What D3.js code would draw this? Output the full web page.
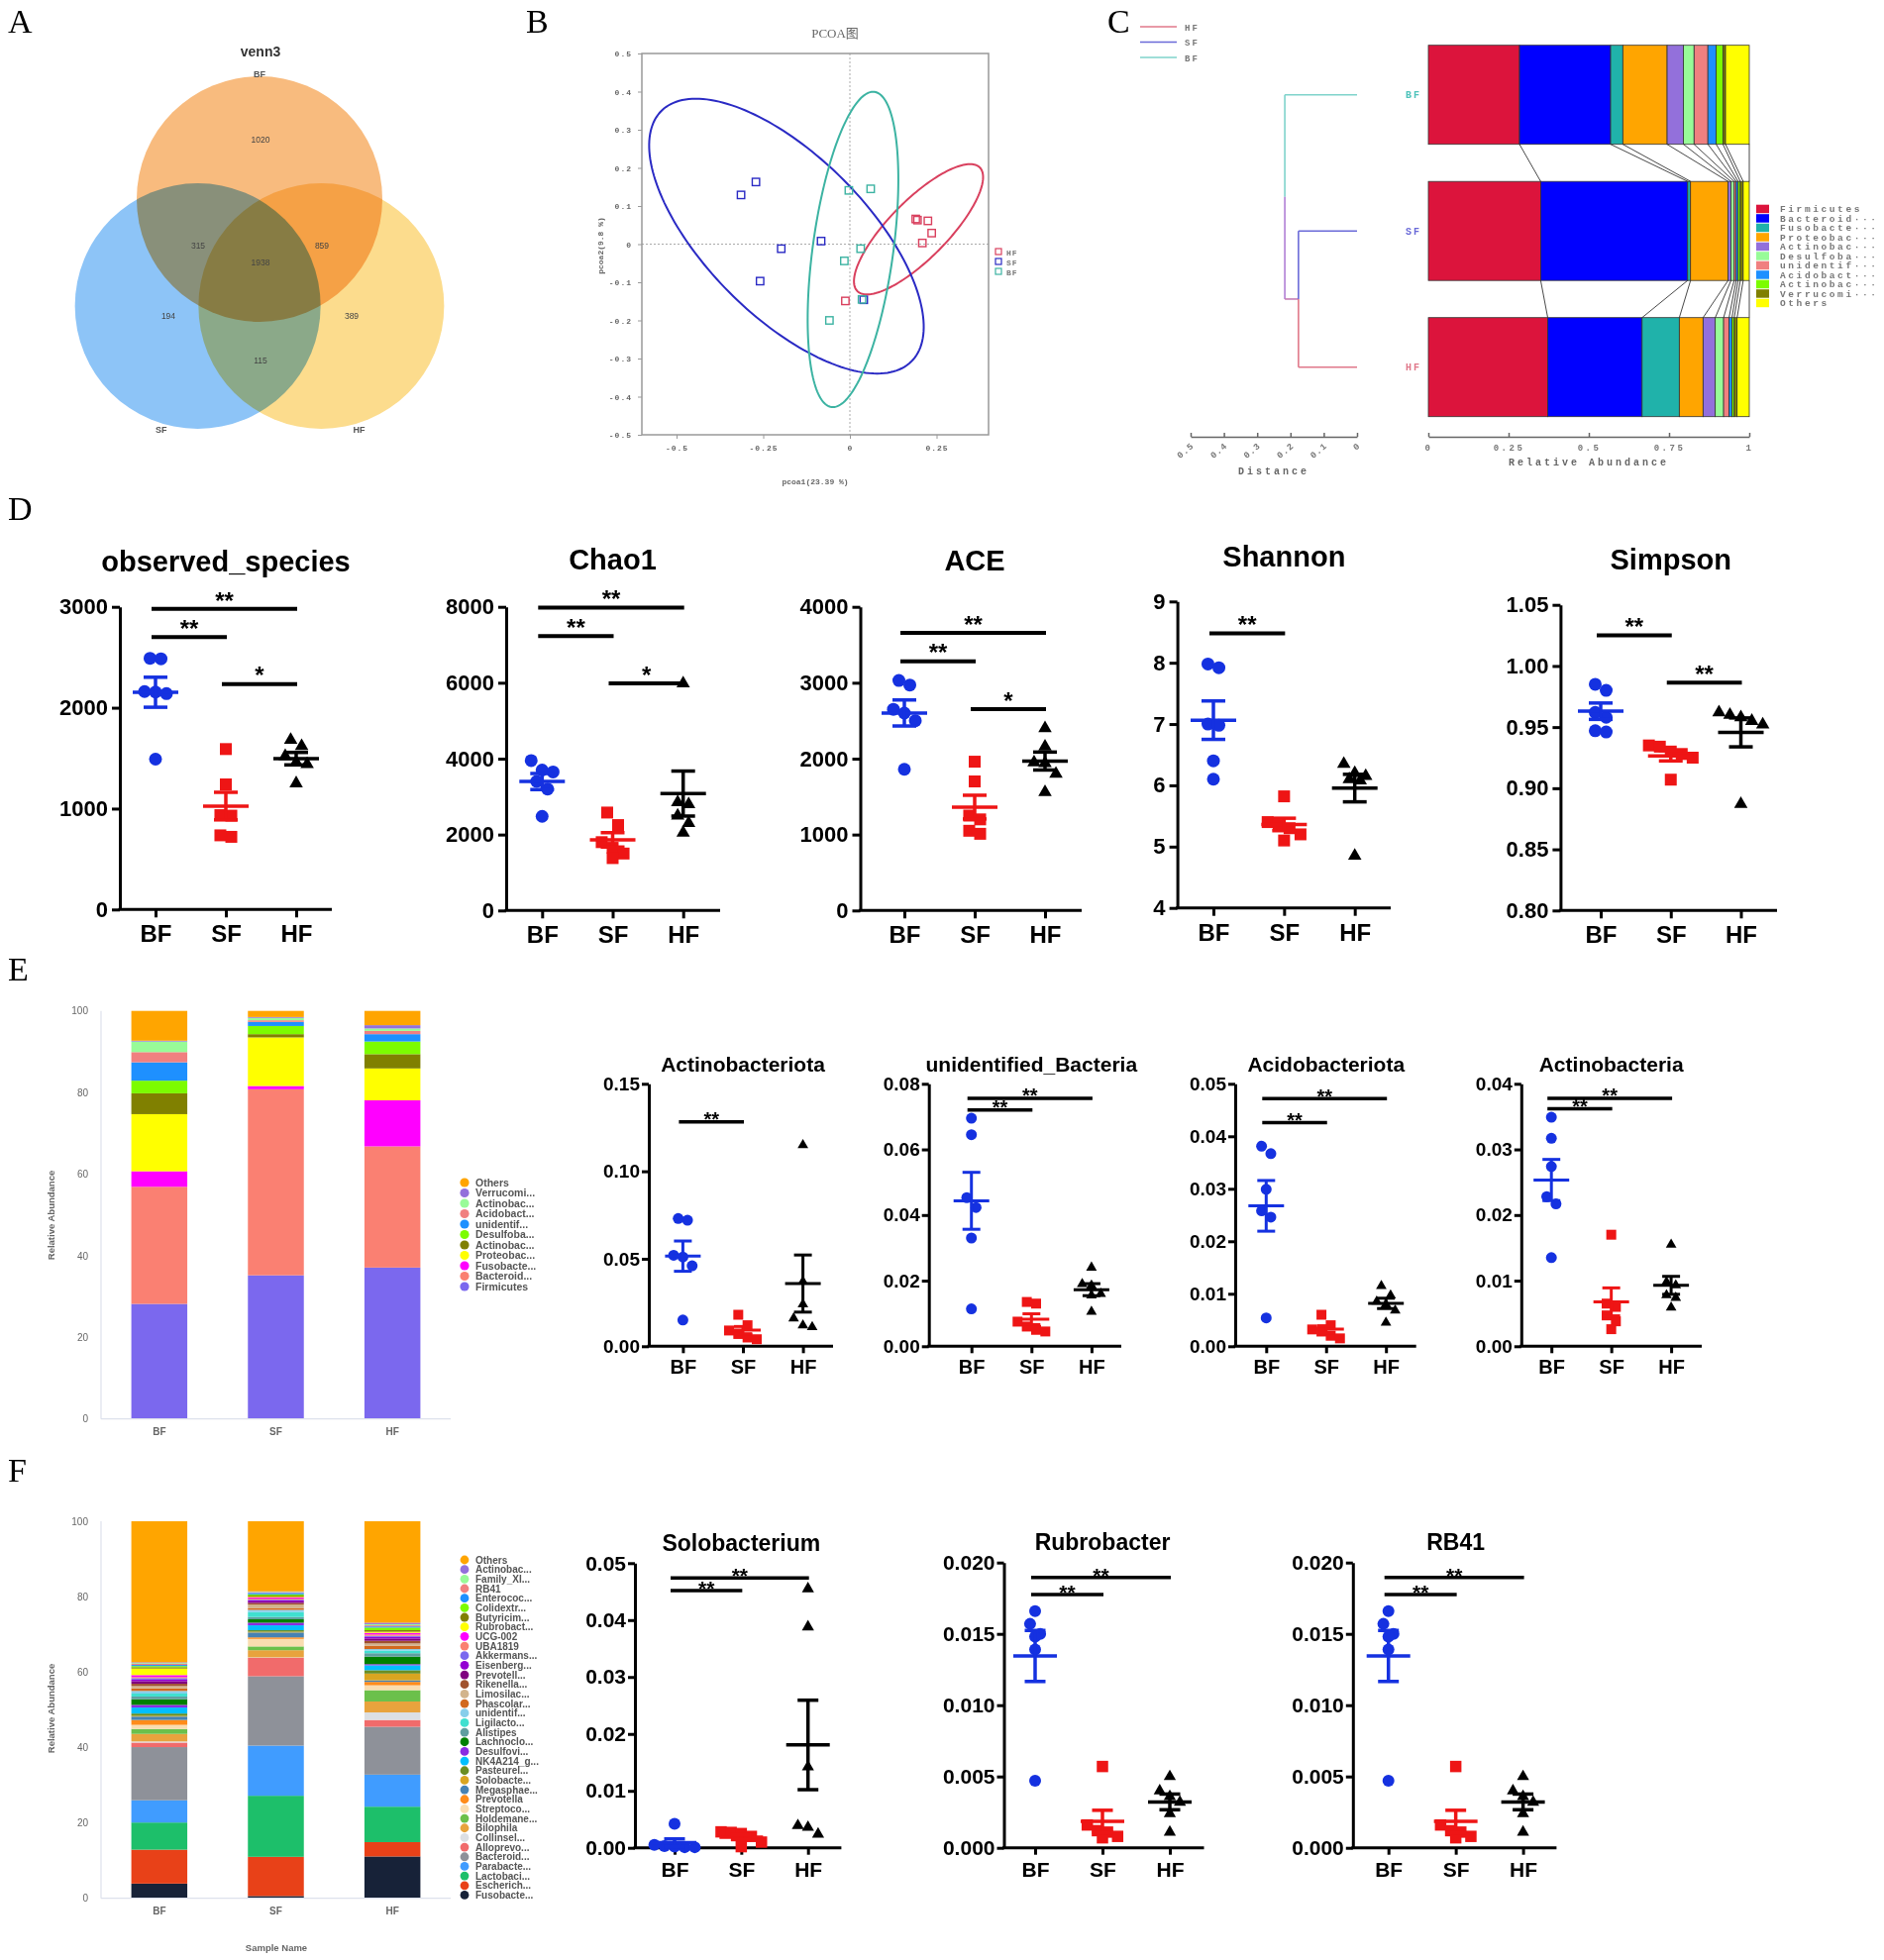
<!DOCTYPE html>
<html>
<head>
<meta charset="utf-8">
<script src="https://cdn.jsdelivr.net/npm/d3@7"></script>
<style>
  body { margin: 0; background: #fff; }
  svg { display: block; }
</style>
</head>
<body>
<div id="fig"></div>
<script>
// ---------------- data ----------------
var groups = ["BF", "SF", "HF"];

// A: venn
var vennSets = ["BF", "SF", "HF"];
var vennRegions = ["BF", "BF&SF", "BF&SF&HF", "BF&HF", "SF", "HF", "SF&HF"];
var vennCounts = [1020, 315, 1938, 859, 194, 389, 115];

// B: PCoA (pcoa1, pcoa2)
var pcoaGroups = ["HF", "SF", "BF"];
var pcoaHF = [[0.190, 0.066], [0.195, 0.063], [0.225, 0.061], [0.236, 0.029], [0.209, 0.003], [-0.013, -0.149]];
var pcoaSF = [[-0.314, 0.129], [-0.271, 0.163], [-0.198, -0.012], [-0.083, 0.008], [-0.259, -0.097], [0.040, -0.146]];
var pcoaBF = [[-0.003, 0.141], [0.060, 0.145], [0.031, -0.012], [-0.016, -0.044], [-0.059, -0.200], [0.035, -0.145]];
// confidence ellipses: centre, major and minor semi-axis vectors (data units)
var ellipseHF = { c: [0.198, 0.039], u: [0.1748, 0.1636], v: [0.0642, -0.0494] };
var ellipseSF = { c: [-0.183, 0.021], u: [0.354, -0.334], v: [-0.1775, -0.1356] };
var ellipseBF = { c: [0.009, -0.014], u: [0.0615, 0.4133], v: [0.1154, -0.0124] };
var pcoaXTicks = [-0.5, -0.25, 0, 0.25];
var pcoaYTicks = [0.5, 0.4, 0.3, 0.2, 0.1, 0, -0.1, -0.2, -0.3, -0.4, -0.5];

// C: UPGMA tree + phylum bars
var phylaC = ["Firmicutes", "Bacteroid\u00b7\u00b7\u00b7", "Fusobacte\u00b7\u00b7\u00b7", "Proteobac\u00b7\u00b7\u00b7", "Actinobac\u00b7\u00b7\u00b7",
  "Desulfoba\u00b7\u00b7\u00b7", "unidentif\u00b7\u00b7\u00b7", "Acidobact\u00b7\u00b7\u00b7", "Actinobac\u00b7\u00b7\u00b7", "Verrucomi\u00b7\u00b7\u00b7", "Others"];
var phylaCColors = ["#dc143c", "#0000ff", "#20b2aa", "#ffa500", "#9370db", "#98fb98", "#f08080", "#1e90ff", "#7cfc00", "#808000", "#ffff00"];
var phylaC_BF = [0.284, 0.284, 0.038, 0.138, 0.051, 0.033, 0.043, 0.026, 0.021, 0.008, 0.074];
var phylaC_SF = [0.350, 0.458, 0.009, 0.117, 0.009, 0.010, 0.006, 0.006, 0.007, 0.009, 0.019];
var phylaC_HF = [0.372, 0.294, 0.116, 0.074, 0.038, 0.026, 0.017, 0.009, 0.007, 0.009, 0.038];
var treeHeights = [0.176, 0.217]; // SF+HF join, then root
var distTicks = [0.5, 0.4, 0.3, 0.2, 0.1, 0];
var relTicks = [0, 0.25, 0.5, 0.75, 1];

// D: alpha diversity (BF, SF, HF)
var observedSpecies = [[2490, 2485, 2160, 2155, 2140, 1490], [1590, 1240, 935, 930, 735, 720], [1680, 1620, 1520, 1460, 1440, 1250]];
var observedSig = [["BF", "HF", 2980, "**"], ["BF", "SF", 2700, "**"], ["SF", "HF", 2235, "*"]];
var chao1 = [[3950, 3700, 3650, 3400, 3200, 2480], [2580, 2250, 1800, 1650, 1500, 1380], [5980, 2850, 2800, 2500, 2300, 2050]];
var chao1Sig = [["BF", "HF", 7980, "**"], ["BF", "SF", 7228, "**"], ["SF", "HF", 5983, "*"]];
var ace = [[3030, 2970, 2650, 2600, 2500, 1860], [1960, 1700, 1250, 1200, 1050, 1010], [2400, 2160, 1950, 1940, 1800, 1560]];
var aceSig = [["BF", "HF", 3657, "**"], ["BF", "SF", 3283, "**"], ["SF", "HF", 2652, "*"]];
var shannon = [[7.98, 7.92, 7.00, 6.98, 6.40, 6.10], [5.82, 5.40, 5.35, 5.30, 5.20, 5.10], [6.35, 6.20, 6.15, 6.10, 6.08, 4.85]];
var shannonSig = [["BF", "SF", 8.48, "**"]];
var simpson = [[0.985, 0.980, 0.962, 0.958, 0.947, 0.946], [0.935, 0.934, 0.930, 0.928, 0.925, 0.907], [0.962, 0.960, 0.958, 0.955, 0.952, 0.887]];
var simpsonSig = [["BF", "SF", 1.025, "**"], ["SF", "HF", 0.9863, "**"]];

// E: phylum level
var phylaE = ["Firmicutes", "Bacteroid...", "Fusobacte...", "Proteobac...", "Actinobac...", "Desulfoba...",
  "unidentif...", "Acidobact...", "Actinobac...", "Verrucomi...", "Others"];
var phylaEColors = ["#7b68ee", "#fa8072", "#ff00ff", "#ffff00", "#808000", "#7cfc00", "#1e90ff", "#f08080", "#98fb98", "#9370db", "#ffa500"];
var phylaE_BF = [28.2, 28.7, 3.8, 14.0, 5.1, 3.1, 4.5, 2.5, 2.6, 0.2, 7.3];
var phylaE_SF = [35.2, 45.6, 0.8, 11.9, 0.8, 2.0, 1.0, 0.4, 0.6, 0.2, 1.5];
var phylaE_HF = [37.1, 29.7, 11.3, 7.8, 3.5, 3.1, 1.8, 0.8, 0.6, 0.8, 3.5];
var actinobacteriota = [[0.073, 0.072, 0.052, 0.051, 0.046, 0.015], [0.018, 0.012, 0.009, 0.007, 0.005, 0.004], [0.115, 0.037, 0.024, 0.016, 0.012, 0.011]];
var actinobacteriotaSig = [["BF", "SF", 0.1283, "**"]];
var unidentifiedBacteria = [[0.0695, 0.0645, 0.0453, 0.0423, 0.0330, 0.0114], [0.0135, 0.0130, 0.0075, 0.0060, 0.0050, 0.0045], [0.0240, 0.0190, 0.0185, 0.0160, 0.0155, 0.0105]];
var unidentifiedSig = [["BF", "HF", 0.0756, "**"], ["BF", "SF", 0.0720, "**"]];
var acidobacteriota = [[0.0381, 0.0367, 0.0299, 0.0258, 0.0246, 0.0054], [0.0060, 0.0040, 0.0032, 0.0028, 0.0020, 0.0015], [0.0115, 0.0097, 0.0085, 0.0080, 0.0068, 0.0045]];
var acidobacteriotaSig = [["BF", "HF", 0.0472, "**"], ["BF", "SF", 0.0426, "**"]];
var actinobacteria = [[0.0349, 0.0317, 0.0274, 0.0228, 0.0217, 0.0135], [0.0170, 0.0065, 0.0060, 0.0047, 0.0038, 0.0026], [0.0155, 0.0098, 0.0093, 0.0078, 0.0074, 0.0059]];
var actinobacteriaSig = [["BF", "HF", 0.0378, "**"], ["BF", "SF", 0.0362, "**"]];

// F: genus level
var generaF = ["Fusobacte...", "Escherich...", "Lactobaci...", "Parabacte...", "Bacteroid...", "Alloprevo...", "Collinsel...",
  "Bilophila", "Holdemane...", "Streptoco...", "Prevotella", "Megasphae...", "Solobacte...", "Pasteurel...", "NK4A214_g...",
  "Desulfovi...", "Lachnoclo...", "Alistipes", "Ligilacto...", "unidentif...", "Phascolar...", "Limosilac...", "Rikenella...",
  "Prevotell...", "Eisenberg...", "Akkermans...", "UBA1819", "UCG-002", "Rubrobact...", "Butyricim...", "Colidextr...",
  "Enterococ...", "RB41", "Family_XI...", "Actinobac...", "Others"];
var generaFColors = ["#172238", "#e84118", "#1dbf6a", "#409cff", "#8e9199", "#f16b6b", "#dcdfe3",
  "#e8a33d", "#6bc04b", "#f9ddb1", "#ff8c1a", "#4682b4", "#daa520", "#6b8e23", "#00bfff",
  "#8a2be2", "#008000", "#5f9ea0", "#40e0d0", "#87ceeb", "#d2691e", "#d2b48c", "#a0522d",
  "#800080", "#9400d3", "#7b68ee", "#fa8072", "#ff00ff", "#ffff00", "#808000", "#7cfc00",
  "#1e90ff", "#f08080", "#98fb98", "#9370db", "#ffa500"];
var generaF_BF = [3.9, 9.0, 7.2, 5.9, 14.1, 1.2, 0.3, 2.0, 1.3, 1.1, 1.3, 0.9, 0.2, 0.6, 1.6, 0.7, 1.5, 0.7, 0.8, 0.7, 0.7, 0.6, 0.6, 0.7, 0.4, 0.4, 0.3, 0.5, 1.75, 0.35, 0.3, 0.3, 0.3, 0.2, 0.2, 37.4];
var generaF_SF = [0.6, 10.4, 16.2, 13.3, 18.4, 4.9, 0.1, 1.9, 1.0, 2.0, 0.4, 1.3, 0.2, 0.4, 1.3, 0.7, 0.9, 0.6, 1.3, 0.6, 0.4, 1.0, 0.4, 0.4, 0.3, 0.2, 0.3, 0.3, 0.2, 0.3, 0.3, 0.4, 0.2, 0.1, 0.1, 18.6];
var generaF_HF = [11.1, 3.8, 9.4, 8.5, 12.7, 1.8, 2.0, 2.9, 3.0, 1.3, 0.9, 0.4, 1.8, 0.9, 1.3, 0.3, 2.0, 0.9, 0.7, 0.4, 0.9, 0.6, 0.7, 0.6, 0.4, 0.3, 0.4, 0.4, 0.3, 0.4, 0.7, 0.3, 0.3, 0.3, 0.4, 26.9];
var solobacterium = [[0.0042, 0.0005, 0.0003, 0.0002, 0.0001, 0.0001], [0.0028, 0.0027, 0.0025, 0.0020, 0.0010, 0.0002], [0.0455, 0.0388, 0.0142, 0.0039, 0.0036, 0.0024]];
var solobacteriumSig = [["BF", "HF", 0.0474, "**"], ["BF", "SF", 0.0452, "**"]];
var rubrobacter = [[0.0166, 0.0157, 0.0150, 0.0148, 0.0139, 0.0047], [0.0057, 0.0016, 0.0012, 0.0011, 0.0008, 0.0007], [0.0050, 0.0040, 0.0036, 0.0032, 0.0024, 0.0011]];
var rubrobacterSig = [["BF", "HF", 0.01896, "**"], ["BF", "SF", 0.01776, "**"]];
var rb41 = [[0.0166, 0.0157, 0.0150, 0.0148, 0.0139, 0.0047], [0.0057, 0.0016, 0.0012, 0.0011, 0.0008, 0.0007], [0.0050, 0.0040, 0.0036, 0.0032, 0.0024, 0.0011]];
var rb41Sig = [["BF", "HF", 0.01896, "**"], ["BF", "SF", 0.01776, "**"]];

// ---------------- setup ----------------
var SANS = "'Liberation Sans', Arial, Helvetica, sans-serif";
var SERIF = "'Liberation Serif', 'Times New Roman', 'Noto Sans CJK SC', serif";
var MONO = "'Liberation Mono', 'DejaVu Sans Mono', 'Noto Sans CJK SC', monospace";
var groupColor = { BF: "#1531e0", SF: "#ee1515", HF: "#000000" };
var groupSymbol = { BF: d3.symbolCircle, SF: d3.symbolSquare, HF: d3.symbolTriangle };

var svg = d3.select("#fig").append("svg")
    .attr("width", 1902)
    .attr("height", 1979);

svg.append("rect").attr("width", 1902).attr("height", 1979).attr("fill", "#fff");

// panel letters
var letters = [["A", 8, 33], ["B", 531, 33], ["C", 1118, 33], ["D", 8, 525], ["E", 8, 990], ["F", 8, 1496]];
svg.selectAll("text.letter").data(letters).enter().append("text")
    .attr("x", d => d[1]).attr("y", d => d[2])
    .attr("font-family", SERIF).attr("font-size", 34)
    .text(d => d[0]);

// ---------------- A: venn ----------------
var venn = svg.append("g");
var vR = 124, vCx = 262, vCy = 273, vDist = 72;
var vennAngles = [-90, 150, 30];
var vennFill = ["#f8bb7e", "#8dc4f7", "#fcdc8d"];
var vennCenters = vennAngles.map(a => [vCx + vDist * Math.cos(a * Math.PI / 180), vCy + vDist * Math.sin(a * Math.PI / 180)]);

var vennCircles = venn.append("g").style("isolation", "isolate");
vennCircles.selectAll("circle").data(vennSets).enter().append("circle")
    .attr("cx", (d, i) => vennCenters[i][0])
    .attr("cy", (d, i) => vennCenters[i][1])
    .attr("r", vR)
    .attr("fill", (d, i) => vennFill[i])
    .style("mix-blend-mode", "multiply");

venn.append("text").attr("x", vCx + 1).attr("y", 57)
    .attr("text-anchor", "middle").attr("font-family", SANS).attr("font-weight", "bold")
    .attr("font-size", 14).attr("fill", "#333").text("venn3");

// set name positions, in radii relative to the centroid
var vennSetLabelPos = [[0, -1.6], [-0.8, 1.3], [0.81, 1.3]];
venn.selectAll("text.set").data(vennSets).enter().append("text")
    .attr("x", (d, i) => vCx + vennSetLabelPos[i][0] * vR)
    .attr("y", (d, i) => vCy + vennSetLabelPos[i][1] * vR + 3)
    .attr("text-anchor", "middle").attr("font-family", SANS).attr("font-weight", "bold")
    .attr("font-size", 9).attr("fill", "#555").text(d => d);

var vennLabelPos = [[0.008, -1.065], [-0.5, -0.2], [0.008, -0.065], [0.508, -0.2], [-0.742, 0.371], [0.75, 0.371], [0.008, 0.734]];
venn.selectAll("text.count").data(vennCounts).enter().append("text")
    .attr("x", (d, i) => vCx + vennLabelPos[i][0] * vR)
    .attr("y", (d, i) => vCy + vennLabelPos[i][1] * vR + 3)
    .attr("text-anchor", "middle").attr("font-family", SANS)
    .attr("font-size", 8.5).attr("fill", "#444").text(d => d);

// ---------------- B: PCoA ----------------
var pB = svg.append("g");
var bx = d3.scaleLinear().domain([-0.6, 0.4]).range([648, 998]);
var by = d3.scaleLinear().domain([-0.5, 0.5]).range([439, 54]);
var pcoaColors = { HF: "#d9405e", SF: "#2a2ac4", BF: "#3cb3a2" };
var pcoaPoints = { HF: pcoaHF, SF: pcoaSF, BF: pcoaBF };
var pcoaEllipses = { HF: ellipseHF, SF: ellipseSF, BF: ellipseBF };
var dash = s => s.replace("\u2212", "-");

pB.append("text").attr("x", 843).attr("y", 38).attr("text-anchor", "middle")
    .attr("font-family", SERIF).attr("font-size", 13).attr("fill", "#666").text("PCOA图");

// zero lines
pB.append("line").attr("x1", bx(-0.6)).attr("x2", bx(0.4)).attr("y1", by(0)).attr("y2", by(0))
    .attr("stroke", "#aaa").attr("stroke-dasharray", "2,2");
pB.append("line").attr("x1", bx(0)).attr("x2", bx(0)).attr("y1", by(0.5)).attr("y2", by(-0.5))
    .attr("stroke", "#aaa").attr("stroke-dasharray", "2,2");

pB.append("rect").attr("x", bx(-0.6)).attr("y", by(0.5))
    .attr("width", bx(0.4) - bx(-0.6)).attr("height", by(-0.5) - by(0.5))
    .attr("fill", "none").attr("stroke", "#999").attr("stroke-width", 1.5);

var bYAxis = pB.append("g").attr("transform", `translate(${bx(-0.6)},0)`)
    .call(d3.axisLeft(by).tickValues(pcoaYTicks).tickSize(4).tickSizeOuter(0).tickPadding(6)
        .tickFormat(d => d === 0 ? "0" : dash(d3.format(".1f")(d))));
var bXAxis = pB.append("g").attr("transform", `translate(0,${by(-0.5)})`)
    .call(d3.axisBottom(bx).tickValues(pcoaXTicks).tickSize(4).tickSizeOuter(0).tickPadding(6)
        .tickFormat(d => d === 0 ? "0" : dash(String(d))));
[bYAxis, bXAxis].forEach(function (a) {
    a.select(".domain").remove();
    a.selectAll("line").attr("stroke", "#999");
    a.selectAll("text").attr("font-family", MONO).attr("font-weight", "bold").attr("font-size", 8)
        .attr("fill", "#666").attr("letter-spacing", 1);
});

pB.append("text").attr("x", 823).attr("y", 489).attr("text-anchor", "middle")
    .attr("font-family", MONO).attr("font-size", 8).attr("fill", "#666").attr("font-weight", "bold")
    .text("pcoa1(23.39 %)");
pB.append("text").attr("transform", "translate(609,248) rotate(-90)").attr("text-anchor", "middle")
    .attr("font-family", MONO).attr("font-size", 8).attr("fill", "#666").attr("font-weight", "bold")
    .text("pcoa2(9.8 %)");

function ellipsePath(e) {
    var pts = d3.range(0, 361, 2).map(function (deg) {
        var t = deg * Math.PI / 180;
        return [bx(e.c[0] + e.u[0] * Math.cos(t) + e.v[0] * Math.sin(t)),
                by(e.c[1] + e.u[1] * Math.cos(t) + e.v[1] * Math.sin(t))];
    });
    return d3.line()(pts) + "Z";
}

pcoaGroups.forEach(function (gname) {
    pB.append("path").attr("d", ellipsePath(pcoaEllipses[gname]))
        .attr("fill", "none").attr("stroke", pcoaColors[gname]).attr("stroke-width", 2);
});
pcoaGroups.forEach(function (gname) {
    pB.selectAll(null).data(pcoaPoints[gname]).enter().append("rect")
        .attr("x", d => bx(d[0]) - 3.7).attr("y", d => by(d[1]) - 3.7)
        .attr("width", 7.4).attr("height", 7.4)
        .attr("fill", "none").attr("stroke", pcoaColors[gname]).attr("stroke-width", 1.4);
});

// legend
pcoaGroups.forEach(function (gname, i) {
    pB.append("rect").attr("x", 1005).attr("y", 251 + i * 10).attr("width", 6).attr("height", 6)
        .attr("fill", "none").attr("stroke", pcoaColors[gname]).attr("stroke-width", 1.2);
    pB.append("text").attr("x", 1016).attr("y", 257.5 + i * 10)
        .attr("font-family", MONO).attr("font-size", 8).attr("fill", "#777").attr("font-weight", "bold")
        .attr("letter-spacing", 1).text(gname);
});

// ---------------- C: tree + bars ----------------
var pC = svg.append("g");
var distX = d3.scaleLinear().domain([0.5, 0]).range([1202, 1370]);
var relX = d3.scaleLinear().domain([0, 1]).range([1442, 1766]);
var cY = d3.scaleBand().domain(groups).range([45.7, 420.7]).paddingInner(0.2727);
var treeColor = { BF: "#7fd3cb", SF: "#6a6ad8", HF: "#e0788a", join: "#b07fd5" };
var leafY = g => cY(g) + cY.bandwidth() / 2;
var phylaCValues = { BF: phylaC_BF, SF: phylaC_SF, HF: phylaC_HF };

// top legend for the tree colours
["HF", "SF", "BF"].forEach(function (gname, i) {
    pC.append("line").attr("x1", 1151).attr("x2", 1188).attr("y1", 27 + i * 15.5).attr("y2", 27 + i * 15.5)
        .attr("stroke", treeColor[gname]).attr("stroke-width", 1.5);
    pC.append("text").attr("x", 1196).attr("y", 30.5 + i * 15.5)
        .attr("font-family", MONO).attr("font-weight", "bold").attr("font-size", 9).attr("fill", "#777")
        .attr("letter-spacing", 2).text(gname);
});

// dendrogram
var yNode = (leafY("SF") + leafY("HF")) / 2;
var hJoin = treeHeights[0], hRoot = treeHeights[1];
function seg(x1, y1, x2, y2, col) {
    pC.append("line").attr("x1", x1).attr("y1", y1).attr("x2", x2).attr("y2", y2)
        .attr("stroke", col).attr("stroke-width", 1.6);
}
seg(distX(0), leafY("BF"), distX(hRoot), leafY("BF"), treeColor.BF);
seg(distX(hRoot), leafY("BF"), distX(hRoot), (leafY("BF") + yNode) / 2, treeColor.BF);
seg(distX(hRoot), (leafY("BF") + yNode) / 2, distX(hRoot), yNode, treeColor.join);
seg(distX(hRoot), yNode, distX(hJoin), yNode, "#c67cb4");
seg(distX(0), leafY("SF"), distX(hJoin), leafY("SF"), treeColor.SF);
seg(distX(hJoin), leafY("SF"), distX(hJoin), yNode, treeColor.SF);
seg(distX(0), leafY("HF"), distX(hJoin), leafY("HF"), treeColor.HF);
seg(distX(hJoin), leafY("HF"), distX(hJoin), yNode, treeColor.HF);

// distance axis
var dAxis = pC.append("g").attr("transform", "translate(0,441)")
    .call(d3.axisBottom(distX).tickValues(distTicks).tickSizeInner(-4).tickSizeOuter(0).tickFormat(""));
dAxis.select(".domain").attr("stroke", "#666").attr("stroke-width", 1.5);
dAxis.selectAll("line").attr("stroke", "#666").attr("stroke-width", 1.5);
pC.selectAll("text.dist").data(distTicks).enter().append("text")
    .attr("transform", d => `translate(${distX(d) + 4},451) rotate(-40)`)
    .attr("text-anchor", "end").attr("font-family", MONO).attr("font-weight", "bold")
    .attr("font-size", 9).attr("fill", "#777").attr("letter-spacing", 1).text(d => d === 0 ? "0" : String(d));
pC.append("text").attr("x", 1286).attr("y", 479).attr("text-anchor", "middle")
    .attr("font-family", MONO).attr("font-weight", "bold").attr("font-size", 10).attr("fill", "#666")
    .attr("letter-spacing", 3).text("Distance");

// leaf labels
groups.forEach(function (gname) {
    pC.append("text").attr("x", 1427).attr("y", leafY(gname) + 3.5).attr("text-anchor", "middle")
        .attr("font-family", MONO).attr("font-weight", "bold").attr("font-size", 10)
        .attr("fill", treeColor[gname] === "#7fd3cb" ? "#4fc3bb" : treeColor[gname])
        .attr("letter-spacing", 2).text(gname);
});

// stacked bars
var cumC = {};
groups.forEach(function (gname) {
    var c = [0];
    phylaCValues[gname].forEach(v => c.push(c[c.length - 1] + v));
    cumC[gname] = c;
    var yTop = cY(gname);
    pC.selectAll(null).data(phylaCValues[gname]).enter().append("rect")
        .attr("x", (d, i) => relX(c[i]))
        .attr("width", (d, i) => relX(c[i + 1]) - relX(c[i]))
        .attr("y", yTop).attr("height", cY.bandwidth())
        .attr("fill", (d, i) => phylaCColors[i])
        .attr("stroke", "#333").attr("stroke-width", 0.8);
});
// connectors between neighbouring bars
for (var gi = 0; gi < groups.length - 1; gi++) {
    var ga = groups[gi], gb = groups[gi + 1];
    for (var k = 1; k < cumC[ga].length; k++) {
        pC.append("line")
            .attr("x1", relX(Math.min(cumC[ga][k], 1))).attr("y1", cY(ga) + cY.bandwidth())
            .attr("x2", relX(Math.min(cumC[gb][k], 1))).attr("y2", cY(gb))
            .attr("stroke", "#333").attr("stroke-width", 0.9);
    }
}
var rAxis = pC.append("g").attr("transform", "translate(0,441)")
    .call(d3.axisBottom(relX).tickValues(relTicks).tickSizeInner(-4).tickSizeOuter(0).tickPadding(8)
        .tickFormat(d => String(d)));
rAxis.select(".domain").attr("stroke", "#666").attr("stroke-width", 1.5);
rAxis.selectAll("line").attr("stroke", "#666").attr("stroke-width", 1.5);
rAxis.selectAll("text").attr("font-family", MONO).attr("font-weight", "bold").attr("font-size", 9)
    .attr("fill", "#777").attr("letter-spacing", 2.5);
pC.append("text").attr("x", 1604).attr("y", 470).attr("text-anchor", "middle")
    .attr("font-family", MONO).attr("font-weight", "bold").attr("font-size", 10).attr("fill", "#666")
    .attr("letter-spacing", 3).text("Relative Abundance");

// legend
phylaC.forEach(function (name, i) {
    pC.append("rect").attr("x", 1773).attr("y", 206.7 + i * 9.5).attr("width", 13).attr("height", 8.5)
        .attr("fill", phylaCColors[i]);
    pC.append("text").attr("x", 1797).attr("y", 214 + i * 9.5)
        .attr("font-family", MONO).attr("font-weight", "bold").attr("font-size", 9.5).attr("fill", "#777")
        .attr("letter-spacing", 2.6).text(name);
});

// ---------------- dot plots (D, E, F) ----------------
var styleD = { title: 29, tickFont: 22, groupFont: 24, starFont: 24, tick: 8, tickPad: 4, labelPad: 8,
    axisW: 3, sigW: 4, meanW: 3.5, meanHalf: 23, capHalf: 12, r: 6.5, sq: 12, tri: 80, starOff: 14 };
var styleE = { title: 21, tickFont: 19, groupFont: 20, starFont: 20, tick: 7, tickPad: 2, labelPad: 7,
    axisW: 3, sigW: 3.5, meanW: 3, meanHalf: 18, capHalf: 9, r: 5.5, sq: 10, tri: 50, starOff: 7 };
var styleF = { title: 23, tickFont: 21, groupFont: 21, starFont: 21, tick: 7, tickPad: 2, labelPad: 7,
    axisW: 3, sigW: 3.5, meanW: 3.5, meanHalf: 22, capHalf: 10.5, r: 6, sq: 11.5, tri: 65, starOff: 7 };

// side-by-side placement of points that would overlap (scatter dot plot style)
function spread(vals, y, d) {
    var pts = vals.map(v => ({ v: v, py: y(v) })).sort((a, b) => a.py - b.py);
    var rows = [], row = [];
    pts.forEach(function (p) {
        if (row.length && p.py - row[0].py < d) row.push(p);
        else { if (row.length) rows.push(row); row = [p]; }
    });
    if (row.length) rows.push(row);
    rows.forEach(r => r.forEach((p, i) => { p.dx = (i - (r.length - 1) / 2) * d * 0.85; }));
    return pts;
}

function dotPlot(cfg) {
    var s = cfg.style;
    var g = svg.append("g");
    var y = d3.scaleLinear().domain(cfg.domain).range([cfg.bottom, cfg.top]);
    var x = d3.scalePoint().domain(groups).range([cfg.x0, cfg.x1]);
    var y0 = y(cfg.domain[0]);

    g.append("text").attr("x", x("SF")).attr("y", cfg.titleY + s.title * 0.35)
        .attr("text-anchor", "middle").attr("font-family", SANS).attr("font-weight", "bold")
        .attr("font-size", s.title).text(cfg.title);

    var ya = g.append("g").attr("transform", `translate(${cfg.ax},0)`)
        .call(d3.axisLeft(y).tickValues(cfg.ticks).tickFormat(cfg.fmt)
            .tickSize(s.tick).tickSizeOuter(0).tickPadding(s.tickPad));
    ya.attr("font-family", SANS).attr("font-weight", "bold").attr("font-size", s.tickFont);
    ya.selectAll("path, line").attr("stroke", "#000").attr("stroke-width", s.axisW);
    ya.selectAll("text").attr("fill", "#000");

    g.append("line").attr("x1", cfg.ax - s.axisW / 2).attr("x2", cfg.end)
        .attr("y1", y0).attr("y2", y0).attr("stroke", "#000").attr("stroke-width", s.axisW);
    var xa = g.append("g").attr("transform", `translate(0,${y0})`)
        .call(d3.axisBottom(x).tickSize(s.tick).tickSizeOuter(0).tickPadding(s.labelPad));
    xa.select(".domain").remove();
    xa.attr("font-family", SANS).attr("font-weight", "bold").attr("font-size", s.groupFont);
    xa.selectAll("line").attr("stroke", "#000").attr("stroke-width", s.axisW);
    xa.selectAll("text").attr("fill", "#000");

    // points
    groups.forEach(function (gname, gi) {
        var sym = groupSymbol[gname];
        var size = gname === "BF" ? Math.PI * s.r * s.r : gname === "SF" ? s.sq * s.sq : s.tri;
        var pts = spread(cfg.values[gi], y, s.r * 2);
        g.selectAll(null).data(pts).enter().append("path")
            .attr("d", d3.symbol().type(sym).size(size))
            .attr("transform", d => `translate(${x(gname) + d.dx},${d.py})`)
            .attr("fill", groupColor[gname]);
    });

    // mean +- SEM
    groups.forEach(function (gname, gi) {
        var vals = cfg.values[gi];
        var m = d3.mean(vals), se = d3.deviation(vals) / Math.sqrt(vals.length);
        var cx = x(gname), col = groupColor[gname];
        var lines = [
            [cx - s.meanHalf, y(m), cx + s.meanHalf, y(m)],
            [cx, y(m - se), cx, y(m + se)],
            [cx - s.capHalf, y(m + se), cx + s.capHalf, y(m + se)],
            [cx - s.capHalf, y(m - se), cx + s.capHalf, y(m - se)]
        ];
        g.selectAll(null).data(lines).enter().append("line")
            .attr("x1", d => d[0]).attr("y1", d => d[1]).attr("x2", d => d[2]).attr("y2", d => d[3])
            .attr("stroke", col).attr("stroke-width", s.meanW);
    });

    // significance
    cfg.sig.forEach(function (d) {
        var xa1 = x(d[0]) - 4, xb1 = x(d[1]) + 1, yy = y(d[2]);
        g.append("line").attr("x1", xa1).attr("x2", xb1).attr("y1", yy).attr("y2", yy)
            .attr("stroke", "#000").attr("stroke-width", s.sigW);
        g.append("text").attr("x", (xa1 + xb1) / 2).attr("y", yy - s.starOff + 0.575 * s.starFont)
            .attr("text-anchor", "middle").attr("font-family", SANS).attr("font-weight", "bold")
            .attr("font-size", s.starFont).text(d[3]);
    });
}

var fmtInt = d3.format("d"), fmt2 = d3.format(".2f"), fmt3 = d3.format(".3f");

// D
dotPlot({ title: "observed_species", values: observedSpecies, sig: observedSig, domain: [0, 3000],
    ticks: [0, 1000, 2000, 3000], fmt: fmtInt, style: styleD,
    ax: 121, x0: 157, x1: 299, end: 335, top: 612.7, bottom: 918.3, titleY: 567 });
dotPlot({ title: "Chao1", values: chao1, sig: chao1Sig, domain: [0, 8000],
    ticks: [0, 2000, 4000, 6000, 8000], fmt: fmtInt, style: styleD,
    ax: 511, x0: 547.3, x1: 689.7, end: 727, top: 612.7, bottom: 919.3, titleY: 565 });
dotPlot({ title: "ACE", values: ace, sig: aceSig, domain: [0, 4000],
    ticks: [0, 1000, 2000, 3000, 4000], fmt: fmtInt, style: styleD,
    ax: 868.5, x0: 913, x1: 1055, end: 1092, top: 612.7, bottom: 919.3, titleY: 566 });
dotPlot({ title: "Shannon", values: shannon, sig: shannonSig, domain: [4, 9],
    ticks: [4, 5, 6, 7, 8, 9], fmt: fmtInt, style: styleD,
    ax: 1188.6, x0: 1225, x1: 1367.7, end: 1404, top: 607.3, bottom: 916.7, titleY: 562 });
dotPlot({ title: "Simpson", values: simpson, sig: simpsonSig, domain: [0.8, 1.05],
    ticks: [0.8, 0.85, 0.9, 0.95, 1.0, 1.05], fmt: fmt2, style: styleD,
    ax: 1575.4, x0: 1616, x1: 1757.5, end: 1794, top: 610.7, bottom: 919.3, titleY: 565 });

// E
dotPlot({ title: "Actinobacteriota", values: actinobacteriota, sig: actinobacteriotaSig, domain: [0, 0.15],
    ticks: [0, 0.05, 0.10, 0.15], fmt: fmt2, style: styleE,
    ax: 655, x0: 689.4, x1: 810.6, end: 841, top: 1094.3, bottom: 1359.3, titleY: 1075 });
dotPlot({ title: "unidentified_Bacteria", values: unidentifiedBacteria, sig: unidentifiedSig, domain: [0, 0.08],
    ticks: [0, 0.02, 0.04, 0.06, 0.08], fmt: fmt2, style: styleE,
    ax: 937.7, x0: 980.7, x1: 1101.9, end: 1132, top: 1094.3, bottom: 1359.3, titleY: 1075 });
dotPlot({ title: "Acidobacteriota", values: acidobacteriota, sig: acidobacteriotaSig, domain: [0, 0.05],
    ticks: [0, 0.01, 0.02, 0.03, 0.04, 0.05], fmt: fmt2, style: styleE,
    ax: 1247, x0: 1278.3, x1: 1399.2, end: 1429.7, top: 1094.3, bottom: 1359.3, titleY: 1075 });
dotPlot({ title: "Actinobacteria", values: actinobacteria, sig: actinobacteriaSig, domain: [0, 0.04],
    ticks: [0, 0.01, 0.02, 0.03, 0.04], fmt: fmt2, style: styleE,
    ax: 1535.8, x0: 1566.2, x1: 1687.1, end: 1718, top: 1094.3, bottom: 1359.3, titleY: 1075 });

// F
dotPlot({ title: "Solobacterium", values: solobacterium, sig: solobacteriumSig, domain: [0, 0.05],
    ticks: [0, 0.01, 0.02, 0.03, 0.04, 0.05], fmt: fmt2, style: styleF,
    ax: 641, x0: 681, x1: 815.7, end: 849.4, top: 1578.3, bottom: 1865.7, titleY: 1558 });
dotPlot({ title: "Rubrobacter", values: rubrobacter, sig: rubrobacterSig, domain: [0, 0.02],
    ticks: [0, 0.005, 0.01, 0.015, 0.02], fmt: fmt3, style: styleF,
    ax: 1013.5, x0: 1045, x1: 1181, end: 1215.5, top: 1577.7, bottom: 1865.7, titleY: 1557 });
dotPlot({ title: "RB41", values: rb41, sig: rb41Sig, domain: [0, 0.02],
    ticks: [0, 0.005, 0.01, 0.015, 0.02], fmt: fmt3, style: styleF,
    ax: 1365.8, x0: 1401.7, x1: 1537.6, end: 1571.4, top: 1577.7, bottom: 1865.7, titleY: 1557 });

// ---------------- stacked relative abundance (E, F) ----------------
function stackPanel(cfg) {
    var g = svg.append("g");
    var x = d3.scaleBand().domain(groups).range([102, 455]).paddingInner(0.52).paddingOuter(0.26);
    var y = d3.scaleLinear().domain([0, 100]).range([cfg.bottom, cfg.top]);
    var keys = cfg.names.map((n, k) => k);
    var rows = groups.map(function (gname, gi) {
        var o = { group: gname };
        keys.forEach(k => { o[k] = cfg.values[gi][k]; });
        return o;
    });
    var series = d3.stack().keys(keys)(rows);

    g.selectAll("g.layer").data(series).enter().append("g")
        .attr("fill", d => cfg.colors[d.key])
        .selectAll("rect").data(d => d).enter().append("rect")
        .attr("x", d => x(d.data.group))
        .attr("width", x.bandwidth())
        .attr("y", d => y(Math.min(d[1], 100)))
        .attr("height", d => Math.max(0, y(d[0]) - y(Math.min(d[1], 100))));

    // axes
    g.append("line").attr("x1", 102).attr("x2", 102).attr("y1", y(100)).attr("y2", y(0))
        .attr("stroke", "#dde1ec").attr("stroke-width", 1.2);
    g.append("line").attr("x1", 102).attr("x2", 455).attr("y1", y(0)).attr("y2", y(0))
        .attr("stroke", "#dde1ec").attr("stroke-width", 1.2);
    var ya = g.append("g").attr("transform", "translate(102,0)")
        .call(d3.axisLeft(y).tickValues([0, 20, 40, 60, 80, 100]).tickSize(0).tickPadding(13));
    ya.select(".domain").remove();
    ya.attr("font-family", SANS).attr("font-size", 10);
    ya.selectAll("text").attr("fill", "#666");
    var xa = g.append("g").attr("transform", `translate(0,${y(0)})`)
        .call(d3.axisBottom(x).tickSize(0).tickPadding(9));
    xa.select(".domain").remove();
    xa.attr("font-family", SANS).attr("font-size", 10).attr("font-weight", "bold");
    xa.selectAll("text").attr("fill", "#666");

    g.append("text").attr("transform", `translate(55,${cfg.yLabelY}) rotate(-90)`)
        .attr("text-anchor", "middle").attr("font-family", SANS).attr("font-size", 9.5)
        .attr("font-weight", "bold").attr("fill", "#666").text("Relative Abundance");
    if (cfg.xLabel) {
        g.append("text").attr("x", 279).attr("y", cfg.xLabelY).attr("text-anchor", "middle")
            .attr("font-family", SANS).attr("font-size", 9.5).attr("font-weight", "bold")
            .attr("fill", "#666").text(cfg.xLabel);
    }

    // legend, top to bottom
    var order = keys.slice().reverse();
    order.forEach(function (k, i) {
        var ly = cfg.legendTop + i * cfg.legendStep;
        g.append("circle").attr("cx", 469).attr("cy", ly).attr("r", cfg.legendR).attr("fill", cfg.colors[k]);
        g.append("text").attr("x", 480).attr("y", ly + cfg.legendFont * 0.36)
            .attr("font-family", SANS).attr("font-weight", "bold").attr("font-size", cfg.legendFont)
            .attr("fill", "#555").text(cfg.names[k]);
    });
}

stackPanel({ names: phylaE, colors: phylaEColors, values: [phylaE_BF, phylaE_SF, phylaE_HF],
    top: 1020.7, bottom: 1432.7, yLabelY: 1227, legendTop: 1194, legendStep: 10.5, legendR: 4.6, legendFont: 10.5 });
stackPanel({ names: generaF, colors: generaFColors, values: [generaF_BF, generaF_SF, generaF_HF],
    top: 1536, bottom: 1916.7, yLabelY: 1725, xLabel: "Sample Name", xLabelY: 1970,
    legendTop: 1575, legendStep: 9.67, legendR: 4.4, legendFont: 10 });
</script>
</body>
</html>
